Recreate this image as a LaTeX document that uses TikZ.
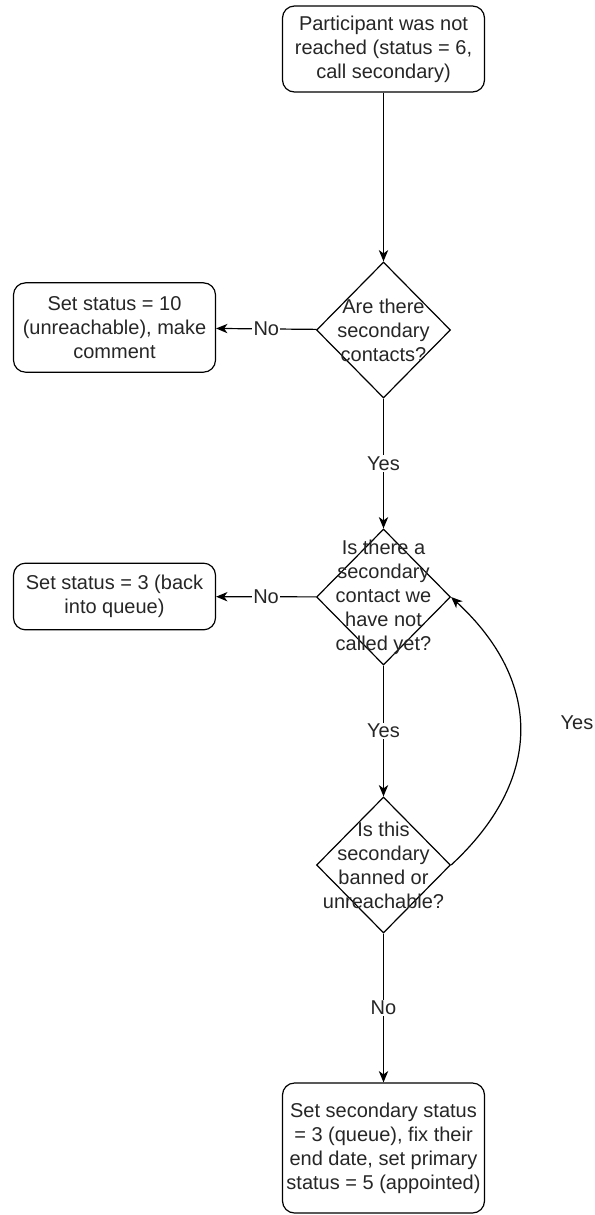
\documentclass[tikz,border=0pt]{standalone}
\usepackage{fontspec}
\setmainfont{Liberation Sans}
\usetikzlibrary{shapes.geometric,arrows.meta}

\begin{document}
\begin{tikzpicture}[x=0.75pt,y=0.75pt,yscale=-1,xscale=1,
        every node/.style={font=\fontsize{15pt}{18pt}\selectfont, text=black!85},
        procbox/.style={draw, rounded corners=9pt, line width=0.9pt, minimum width=151.5pt, align=center, inner sep=0pt},
        decision/.style={draw, diamond, line width=0.9pt, minimum width=100.5pt, minimum height=102pt, inner sep=0pt},
        flow/.style={line width=0.9pt, -{Stealth[length=8.5pt,width=7pt,inset=2.5pt]}},
        edgelabel/.style={fill=white, inner sep=1pt}]
        \useasboundingbox (0,0) rectangle (595,1215);

        % Boxes
        \node[procbox, minimum height=64.5pt] (start) at (383.5,49) {Participant was not\\reached (status = 6,\\call secondary)};
        \node[procbox, minimum height=67pt] (unreach) at (114.5,327.5) {Set status = 10\\(unreachable), make\\comment};
        \node[procbox, minimum height=50pt] (requeue) at (114.5,596.5) {Set status = 3 (back\\into queue)};
        \node[procbox, minimum height=97.5pt] (appoint) at (383.5,1148) {Set secondary status\\= 3 (queue), fix their\\end date, set primary\\status = 5 (appointed)};

        % Decisions
        \node[decision, label={[align=center]center:{Are there\\secondary\\contacts?}}] (hassec) at (383.5,330) {};
        \node[decision, label={[align=center]center:{Is there a\\secondary\\contact we\\have not\\called yet?}}] (notcalled) at (383.5,597) {};
        \node[decision, label={[align=center]center:{Is this\\secondary\\banned or\\unreachable?}}] (banned) at (383.5,865) {};

        % Connectors
        \draw[flow] (start) -- (hassec);
        \draw[flow] (hassec) -- node[edgelabel] {No} (unreach);
        \draw[flow] (hassec) -- node[edgelabel] {Yes} (notcalled);
        \draw[flow] (notcalled) -- node[edgelabel] {No} (requeue);
        \draw[flow] (notcalled) -- node[edgelabel] {Yes} (banned);
        \draw[flow] (banned) -- node[edgelabel] {No} (appoint);
        \draw[flow] (banned.east) .. controls +(92,-85) and +(92,85) .. (notcalled.east);

        % Text Node
        \node (loopyes) at (577,723) {Yes};

\end{tikzpicture}
\end{document}
